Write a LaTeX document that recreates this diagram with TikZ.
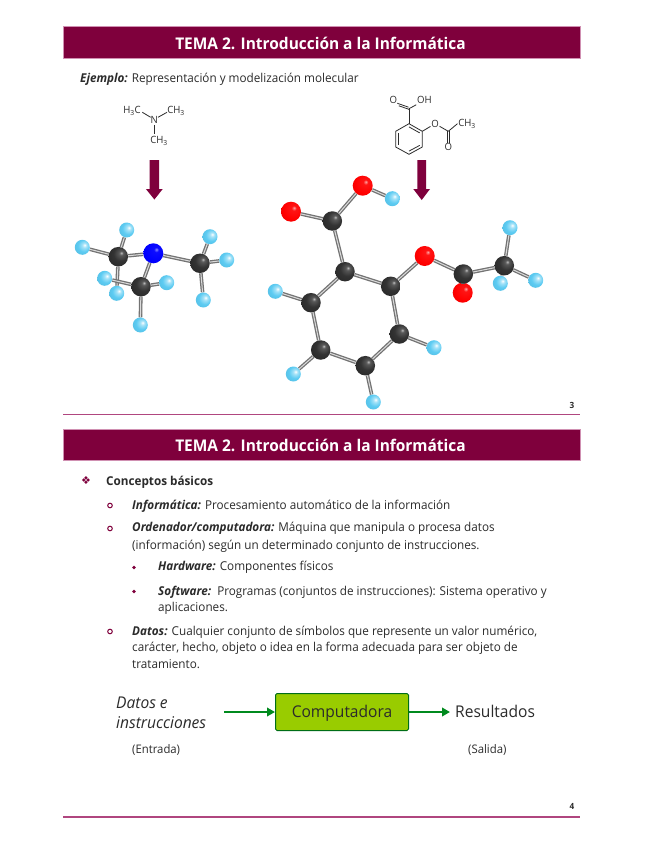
\documentclass[tikz,border=0pt]{standalone}
\usepackage{fontspec}
\setmainfont{Open Sans}[FakeStretch=0.96]
\newfontfamily\symfont{DejaVu Sans}
\usetikzlibrary{arrows.meta,calc}
\definecolor{wine}{HTML}{7F003C}
\definecolor{rulec}{HTML}{B0467F}
\definecolor{txt}{HTML}{2B2B2B}
\definecolor{hblue}{HTML}{5CCBF2}
\definecolor{boxg}{HTML}{99CC00}
\definecolor{arrg}{HTML}{008A1E}
\pgfdeclarelayer{backatom}
\pgfdeclarelayer{bondlayer}
\pgfsetlayers{backatom,bondlayer,main}
\pgfdeclareradialshading{hball}{\pgfpoint{8bp}{8bp}}{color(0bp)=(white); color(7bp)=(hblue!55!white); color(20bp)=(hblue); color(40bp)=(hblue!92!black); color(52bp)=(hblue!70!white); color(60bp)=(hblue!30!white)}
\pgfdeclareradialshading{cball}{\pgfpoint{8bp}{10bp}}{color(0bp)=(white!75!black); color(5bp)=(black!65); color(18bp)=(black!80); color(42bp)=(black!86); color(52bp)=(black!72); color(60bp)=(black!55)}
\pgfdeclareradialshading{oball}{\pgfpoint{8bp}{10bp}}{color(0bp)=(red!35!white); color(6bp)=(red!92!white); color(25bp)=(red); color(45bp)=(red!88!black); color(60bp)=(red!70!black)}
\pgfdeclareradialshading{nball}{\pgfpoint{8bp}{10bp}}{color(0bp)=(blue!45!white); color(6bp)=(blue!95!white); color(25bp)=(blue); color(45bp)=(blue!88!black); color(60bp)=(blue!70!black)}
\tikzset{
 x=1pt,y=-1pt,
 bar/.style={fill=wine,draw=rulec!60,line width=.5pt},
 bartxt/.style={text=white,font=\fontsize{16.1}{18}\selectfont\bfseries,anchor=center,inner sep=0},
 body/.style={text=txt,font=\fontsize{12.2}{14}\selectfont,anchor=base west,inner sep=0},
 chem/.style={text=txt,font=\fontsize{10}{11}\selectfont,inner sep=0.6pt},
 chemb/.style={draw=txt,line width=.8pt},
 atom/.style={circle,inner sep=0,minimum size=#1},
 cat/.style={atom=19.5pt,shading=cball},
 nat/.style={atom=20pt,shading=nball},
 oat/.style={atom=20pt,shading=oball},
 hat/.style={atom=15pt,shading=hball},
 bond/.style={draw=black!55,line width=3.6pt,postaction={draw=black!14,line width=1pt}},
 rulel/.style={draw=rulec,line width=1.1pt},
 garrow/.style={draw=arrg,line width=2.1pt,-{Triangle[length=8pt,width=8.5pt]}},
 bigarrow/.style={fill=wine},
 ringb/.style={draw=wine,line width=1pt,circle,inner sep=0,minimum size=4.6pt},
 dotb/.style={fill=wine,circle,inner sep=0,minimum size=3.6pt},
}
\newcommand{\bd}[2]{\draw[bond] (#1) -- (#2);}
\begin{document}
\begin{tikzpicture}
\useasboundingbox (0,0) rectangle (645,848);
\begin{pgfonlayer}{backatom}
\fill[white] (0,0) rectangle (645,848);
\end{pgfonlayer}
% headers
\path[bar] (63,26.5) rectangle (580,58);
\node[bartxt] (t1) at (320.5,43) {TEMA 2. Introducción a la Informática};
\path[bar] (63,429) rectangle (580,460);
\node[bartxt] (t2) at (320.5,445.5) {TEMA 2. Introducción a la Informática};
% rules
\draw[rulel] (63,414.5) -- (580,414.5);
\draw[rulel] (63,817) -- (580,817);
\node[body,anchor=center,font=\fontsize{8.5}{9}\selectfont\bfseries] (p3) at (572,405) {3};
\node[body,anchor=center,font=\fontsize{8.5}{9}\selectfont\bfseries] (p4) at (572,806) {4};
% example line
\node[body] (ej) at (80,82.5) {\textbf{\itshape Ejemplo:} Representación y modelización molecular};
% trimethylamine formula
\node[chem] (fN) at (154.3,120) {N};
\node[chem] (fa) at (132,110.7) {H\textsubscript{3}C};
\node[chem] (fb) at (176,110.7) {CH\textsubscript{3}};
\node[chem] (fc) at (159,141) {CH\textsubscript{3}};
\coordinate (fa1) at (142.3,112.3);\coordinate (fa2) at (150.7,117.3);
\coordinate (fb1) at (167,112.3);\coordinate (fb2) at (158,117.3);
\coordinate (fc1) at (154.3,125);\coordinate (fc2) at (154.3,133.5);
\draw[chemb] (fa1) -- (fa2);
\draw[chemb] (fb1) -- (fb2);
\draw[chemb] (fc1) -- (fc2);
% aspirin formula
\coordinate (r1) at (409,123.7);\coordinate (r2) at (422.3,131.3);\coordinate (r3) at (422.3,147);
\coordinate (r4) at (409,154.3);\coordinate (r5) at (395.7,147);\coordinate (r6) at (395.7,131.3);
\coordinate (cc) at (409,108.7);\coordinate (ac) at (448.3,131.3);
\node[chem] (ao1) at (393.3,100.3) {O};
\node[chem] (aoh) at (424.3,100.3) {OH};
\node[chem] (ao2) at (435,123.7) {O};
\node[chem] (ach) at (467,123.7) {CH\textsubscript{3}};
\node[chem] (ao3) at (448.3,147.3) {O};
\draw[chemb] (r1)--(r2)--(r3)--(r4)--(r5)--(r6)--cycle;
\draw[chemb] ($(r6)+(3,2)$) -- ($(r5)+(3,-2)$);
\draw[chemb] ($(r4)+(0,-3.2)$) -- ($(r3)+(-2.6,-1.6)$);
\draw[chemb] ($(r1)+(0,3.2)$) -- ($(r2)+(-2.6,1.6)$);
\draw[chemb] (r1) -- (cc);
\draw[chemb] (cc) -- (aoh.south west);
\draw[chemb] ([xshift=1pt,yshift=-1pt]cc) -- ([xshift=1pt,yshift=-1pt]ao1.south east);
\draw[chemb] ([xshift=-.5pt,yshift=1.5pt]cc) -- ([xshift=-.5pt,yshift=1.5pt]ao1.south east);
\draw[chemb] (r2) -- (ao2);
\draw[chemb] (ao2) -- (ac);
\draw[chemb] (ac) -- (ach.west);
\draw[chemb] ([xshift=-1.2pt]ac) -- ([xshift=-1.2pt]ao3.north);
\draw[chemb] ([xshift=1.2pt]ac) -- ([xshift=1.2pt]ao3.north);
% block arrows
\path[bigarrow] (149.7,160) -- (159.2,160) -- (159.2,189) -- (162.7,189) -- (154.4,199.5) -- (145.9,189) -- (149.7,189) -- cycle;
\path[bigarrow] (417.3,160) -- (426,160) -- (426,189) -- (430,189) -- (421.7,200) -- (413.3,189) -- (417.3,189) -- cycle;
% left molecule
\node[hat] (lh1) at (82.3,247.3) {};
\node[hat] (lh2) at (126.7,230) {};
\node[hat] (lh3) at (210,236.7) {};
\node[hat] (lh4) at (226.7,260) {};
\node[hat] (lh5) at (203.3,300) {};
\node[hat] (lh6) at (166.7,282.7) {};
\node[hat] (lh7) at (140.3,325) {};
\node[hat] (lh8) at (104.7,278.3) {};
\node[hat] (lh9) at (116.7,293.3) {};
\node[cat] (lc1) at (118.3,256.7) {};
\node[cat] (lc2) at (141,286.7) {};
\node[cat] (lc3) at (200,263.3) {};
\node[nat] (ln) at (153.3,253.3) {};
\begin{pgfonlayer}{bondlayer}
\bd{lc1}{ln}\bd{lc2}{ln}\bd{lc3}{ln}
\bd{lc1}{lh1}\bd{lc1}{lh2}\bd{lc1}{lh9}
\bd{lc2}{lh6}\bd{lc2}{lh7}\bd{lc2}{lh8}
\bd{lc3}{lh3}\bd{lc3}{lh4}\bd{lc3}{lh5}
\end{pgfonlayer}
% right molecule
\node[oat] (o1) at (291,211.7) {};
\node[cat] (c7) at (332.3,221) {};
\node[oat] (o2) at (362.7,185.7) {};
\node[hat] (h1) at (392.3,198.7) {};
\node[cat] (c1) at (345,271.7) {};
\node[cat] (c2) at (390.7,286.3) {};
\node[oat] (o3) at (424.7,256) {};
\node[cat] (c8) at (463.3,274) {};
\begin{pgfonlayer}{backatom}
\node[oat] (o4) at (462.7,292.7) {};
\end{pgfonlayer}
\node[cat] (c9) at (504.3,265.7) {};
\node[hat] (h2) at (510,227.7) {};
\node[hat] (h3) at (535.7,280.3) {};
\node[hat] (h4) at (500.3,283.3) {};
\node[cat] (c3) at (311,302.7) {};
\node[hat] (h5) at (275.3,291.3) {};
\node[cat] (c4) at (320.7,350) {};
\node[hat] (h6) at (293.3,374) {};
\node[cat] (c5) at (365.3,365.7) {};
\node[hat] (h7) at (373.3,402) {};
\node[cat] (c6) at (399.3,334) {};
\node[hat] (h8) at (434,347.7) {};
\begin{pgfonlayer}{bondlayer}
\bd{o1}{c7}\bd{c7}{o2}\bd{o2}{h1}\bd{c7}{c1}\bd{c1}{c2}\bd{c2}{o3}\bd{o3}{c8}\bd{c8}{o4}\bd{c8}{c9}
\bd{c9}{h2}\bd{c9}{h3}\bd{c9}{h4}\bd{c1}{c3}\bd{c3}{h5}\bd{c3}{c4}\bd{c4}{h6}\bd{c4}{c5}\bd{c5}{h7}\bd{c5}{c6}\bd{c6}{h8}\bd{c6}{c2}
\end{pgfonlayer}
% slide 2 text
\node[text=wine,font=\symfont\fontsize{11}{12}\selectfont,inner sep=0] (b0) at (86,481) {❖};
\node[body] (l0) at (106,485) {\textbf{Conceptos básicos}};
\node[ringb] (b1) at (110,505.5) {};
\node[body] (l1) at (132,509.5) {\textbf{\itshape Informática:} Procesamiento automático de la información};
\node[ringb] (b2) at (110,528.5) {};
\node[body] (l2) at (132,531.5) {\textbf{\itshape Ordenador/computadora:} Máquina que manipula o procesa datos};
\node[body] (l3) at (132,549.5) {(información) según un determinado conjunto de instrucciones.};
\node[dotb] (b3) at (134,567.5) {};
\node[body] (l4) at (158,570.5) {\textbf{\itshape Hardware:} Componentes físicos};
\node[dotb] (b4) at (134,591.5) {};
\node[body] (l5) at (158,595) {\textbf{\itshape Software:}\ \ Programas (conjuntos de instrucciones): Sistema operativo y};
\node[body] (l6) at (158,611) {aplicaciones.};
\node[ringb] (b5) at (110,631.5) {};
\node[body] (l7) at (132,635) {\textbf{\itshape Datos:} Cualquier conjunto de símbolos que represente un valor numérico,};
\node[body] (l8) at (132,651) {carácter, hecho, objeto o idea en la forma adecuada para ser objeto de};
\node[body] (l9) at (132,668) {tratamiento.};
% flow
\node[body,font=\fontsize{16.2}{18}\selectfont\itshape] (d1) at (116,708) {Datos e};
\node[body,font=\fontsize{16.2}{18}\selectfont\itshape] (d2) at (116,728) {instrucciones};
\node[draw=arrg!80!black,line width=1pt,fill=boxg,rounded corners=1.5pt,minimum width=133pt,minimum height=37pt,inner sep=0,text=txt,text height=12pt,text depth=2pt,font=\fontsize{16.2}{18}\selectfont] (comp) at (342,712) {Computadora};
\node[body,font=\fontsize{16.2}{18}\selectfont] (res) at (455,717) {Resultados};
\coordinate (in) at (224,712);
\coordinate (out) at (450,712);
\draw[garrow] (in) -- (comp.west);
\draw[garrow] (comp.east) -- (out);
\node[body,font=\fontsize{11.8}{13}\selectfont] (en) at (132,753) {(Entrada)};
\node[body,font=\fontsize{11.8}{13}\selectfont] (sa) at (468,753) {(Salida)};
\end{tikzpicture}
\end{document}
